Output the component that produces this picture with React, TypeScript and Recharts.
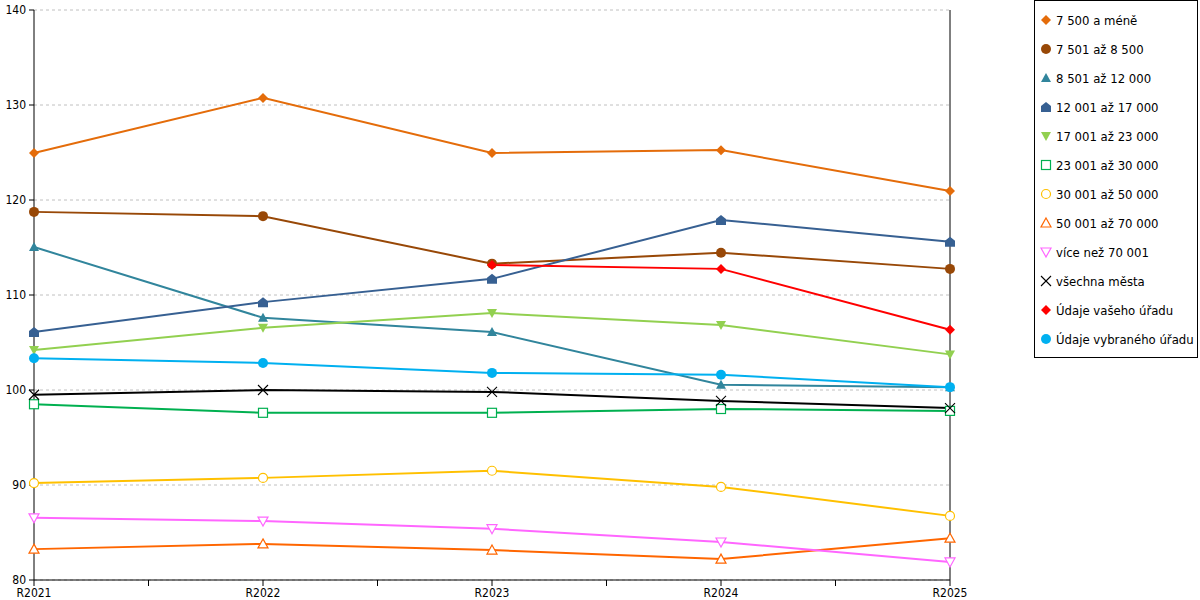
import React from 'react'
import { LineChart, Line, XAxis, YAxis, CartesianGrid, ReferenceLine } from 'recharts'

const years = ['R2021', 'R2022', 'R2023', 'R2024', 'R2025']
const yTicks = [80, 90, 100, 110, 120, 130, 140]
const xTicks = [0, 0.5, 1, 1.5, 2, 2.5, 3, 3.5, 4]

const s7500 = [124.95, 130.75, 124.95, 125.25, 120.95]
const s8500 = [118.75, 118.3, 113.3, 114.45, 112.75]
const s12000 = [115.05, 107.6, 106.1, 100.55, 100.3]
const s17000 = [106.1, 109.25, 111.7, 117.9, 115.6]
const s23000 = [104.2, 106.55, 108.1, 106.85, 103.75]
const s30000 = [98.5, 97.6, 97.6, 98.0, 97.8]
const s50000 = [90.2, 90.75, 91.5, 89.8, 86.75]
const s70000 = [83.25, 83.8, 83.15, 82.2, 84.4]
const sOver = [86.55, 86.2, 85.4, 84.0, 81.9]
const sAll = [99.5, 100.0, 99.8, 98.85, 98.1]
const sYours = [null, null, 113.15, 112.75, 106.35]
const sSelected = [103.35, 102.85, 101.8, 101.6, 100.3]

type Shape =
  | 'diamond' | 'circle' | 'triangle' | 'house' | 'down'
  | 'squareO' | 'circleO' | 'triangleO' | 'downO' | 'cross'

interface Series {
  key: string
  name: string
  color: string
  shape: Shape
  values: (number | null)[]
}

const series: Series[] = [
  { key: 'a', name: '7 500 a méně', color: '#e46c0a', shape: 'diamond', values: s7500 },
  { key: 'b', name: '7 501 až 8 500', color: '#984807', shape: 'circle', values: s8500 },
  { key: 'c', name: '8 501 až 12 000', color: '#31859c', shape: 'triangle', values: s12000 },
  { key: 'd', name: '12 001 až 17 000', color: '#376092', shape: 'house', values: s17000 },
  { key: 'e', name: '17 001 až 23 000', color: '#92d050', shape: 'down', values: s23000 },
  { key: 'f', name: '23 001 až 30 000', color: '#00b050', shape: 'squareO', values: s30000 },
  { key: 'g', name: '30 001 až 50 000', color: '#ffc000', shape: 'circleO', values: s50000 },
  { key: 'h', name: '50 001 až 70 000', color: '#ff6600', shape: 'triangleO', values: s70000 },
  { key: 'i', name: 'více než 70 001', color: '#ff66ff', shape: 'downO', values: sOver },
  { key: 'j', name: 'všechna města', color: '#000000', shape: 'cross', values: sAll },
  { key: 'k', name: 'Údaje vašeho úřadu', color: '#ff0000', shape: 'diamond', values: sYours },
  { key: 'l', name: 'Údaje vybraného úřadu', color: '#00b0f0', shape: 'circle', values: sSelected },
]

const data = years.map((_, i) => {
  const row: Record<string, number | null> = { x: i }
  series.forEach(s => { row[s.key] = s.values[i] })
  return row
})

function Marker({ cx, cy, shape, color }: { cx: number; cy: number; shape: Shape; color: string }) {
  const r = 5
  switch (shape) {
    case 'diamond':
      return <polygon points={`${cx},${cy - r} ${cx + r},${cy} ${cx},${cy + r} ${cx - r},${cy}`} fill={color} />
    case 'circle':
      return <circle cx={cx} cy={cy} r={r} fill={color} />
    case 'triangle':
      return <polygon points={`${cx},${cy - r} ${cx + r},${cy + r - 1} ${cx - r},${cy + r - 1}`} fill={color} />
    case 'house':
      return <polygon points={`${cx},${cy - r} ${cx + r},${cy - 1} ${cx + r},${cy + r} ${cx - r},${cy + r} ${cx - r},${cy - 1}`} fill={color} />
    case 'down':
      return <polygon points={`${cx - r},${cy - r + 1} ${cx + r},${cy - r + 1} ${cx},${cy + r}`} fill={color} />
    case 'squareO':
      return <rect x={cx - r + 0.5} y={cy - r + 0.5} width={2 * r - 1} height={2 * r - 1} fill="#fff" stroke={color} strokeWidth={1.2} />
    case 'circleO':
      return <circle cx={cx} cy={cy} r={r - 0.5} fill="#fff" stroke={color} strokeWidth={1.2} />
    case 'triangleO':
      return <polygon points={`${cx},${cy - r} ${cx + r},${cy + r - 1} ${cx - r},${cy + r - 1}`} fill="#fff" stroke={color} strokeWidth={1.2} />
    case 'downO':
      return <polygon points={`${cx - r},${cy - r + 1} ${cx + r},${cy - r + 1} ${cx},${cy + r}`} fill="#fff" stroke={color} strokeWidth={1.2} />
    case 'cross':
      return (
        <g stroke={color} strokeWidth={1.1}>
          <line x1={cx - r} y1={cy - r} x2={cx + r} y2={cy + r} />
          <line x1={cx - r} y1={cy + r} x2={cx + r} y2={cy - r} />
        </g>
      )
  }
  return null
}

const dotFor = (s: Series) => (props: any) => {
  const { cx, cy, index, value } = props
  if (value == null || cx == null || cy == null) return <g key={`${s.key}-${index}`} />
  return (
    <g key={`${s.key}-${index}`}>
      <Marker cx={cx} cy={cy} shape={s.shape} color={s.color} />
    </g>
  )
}

const font = '"DejaVu Sans Condensed", "DejaVu Sans", Verdana, sans-serif'

function ChartLegend() {
  return (
    <div
      style={{
        position: 'absolute', left: 1034, top: 0, width: 164, height: 358,
        border: '1px solid #000', boxSizing: 'border-box', fontFamily: font, fontSize: 13,
        background: '#fff',
      }}
    >
      {series.map((s, i) => (
        <div key={s.key} style={{ position: 'absolute', left: 4, top: 10 + i * 29, height: 18, display: 'flex', alignItems: 'center' }}>
          <svg width={14} height={14} style={{ marginRight: 3 }}>
            <Marker cx={7} cy={7} shape={s.shape} color={s.color} />
          </svg>
          <span style={{ whiteSpace: 'nowrap', color: '#000' }}>{s.name}</span>
        </div>
      ))}
    </div>
  )
}

export default function App() {
  return (
    <div style={{ position: 'absolute', left: 0, top: 0, width: 1200, height: 600, background: '#fff' }}>
      <LineChart width={1200} height={600} data={data} margin={{ top: 10, right: 250, bottom: 0, left: 0 }}>
        <CartesianGrid vertical={false} stroke="#c0c0c0" strokeDasharray="3 3" />
        <XAxis
          dataKey="x"
          type="number"
          domain={[0, 4]}
          ticks={xTicks}
          interval={0}
          tickFormatter={(v: number) => (Number.isInteger(v) ? years[v] : '')}
          height={20}
          tickSize={6}
          tickMargin={2}
          axisLine={{ stroke: '#000' }}
          tickLine={{ stroke: '#000' }}
          tick={{ fill: '#000', fontSize: 12, fontFamily: font }}
        />
        <YAxis
          domain={[80, 140]}
          ticks={yTicks}
          interval={0}
          width={34}
          tickSize={5}
          tickMargin={3}
          axisLine={{ stroke: '#000' }}
          tickLine={{ stroke: '#000' }}
          tick={{ fill: '#000', fontSize: 12, fontFamily: font }}
        />
        <ReferenceLine x={4} stroke="#000" strokeWidth={1} />
        {series.map(s => (
          <Line
            key={s.key}
            dataKey={s.key}
            name={s.name}
            type="linear"
            stroke={s.color}
            strokeWidth={2}
            dot={dotFor(s)}
            activeDot={false}
            isAnimationActive={false}
          />
        ))}
      </LineChart>
      <ChartLegend />
    </div>
  )
}
